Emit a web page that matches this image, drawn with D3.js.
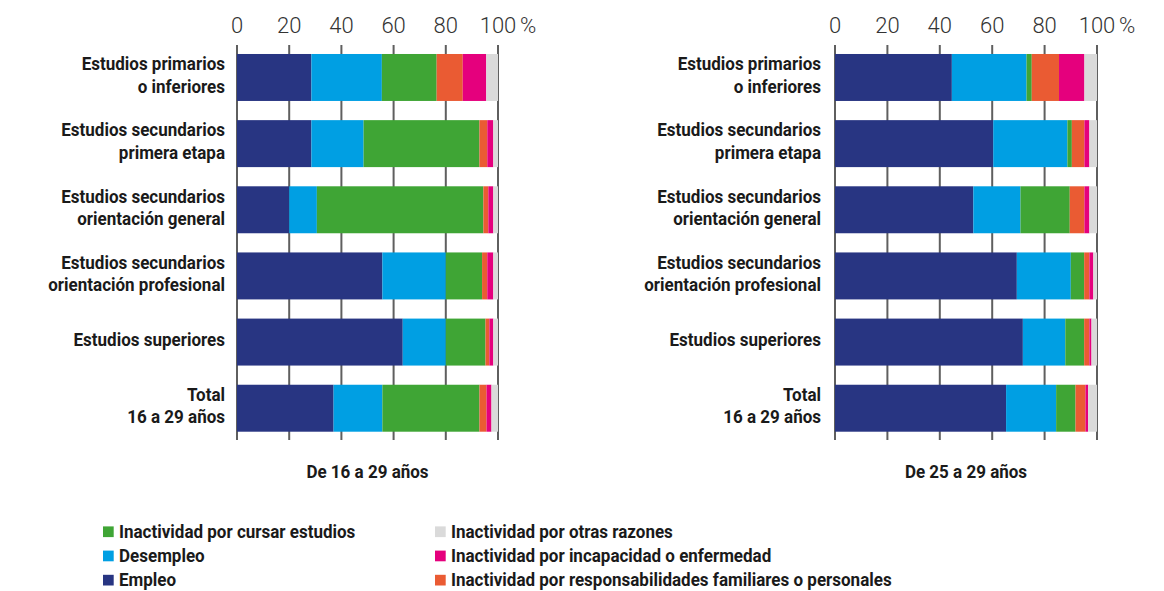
<!DOCTYPE html>
<html>
<head>
<meta charset="utf-8">
<script src="https://cdn.jsdelivr.net/npm/d3@7"></script>
<style>
  body { margin: 0; background: #fff; }
  .lbl { font-family: Roboto, "Liberation Sans Narrow", sans-serif; font-weight: bold; font-size: 18px; fill: #1a1a1a; }
  .tick-lbl { font-family: Roboto, "Open Sans", sans-serif; font-weight: 300; font-size: 22px; fill: #333; }
</style>
</head>
<body>
<svg id="chart" width="1164" height="591"></svg>
<script>
const categories = [
  ["Estudios primarios", "o inferiores"],
  ["Estudios secundarios", "primera etapa"],
  ["Estudios secundarios", "orientación general"],
  ["Estudios secundarios", "orientación profesional"],
  ["Estudios superiores"],
  ["Total", "16 a 29 años"]
];
const tickValues = [0, 20, 40, 60, 80, 100];

// De 16 a 29 años
const empleo16 = [28.5, 28.5, 20, 55.7, 63.5, 37];
const desempleo16 = [27, 20, 10.6, 24.3, 16.5, 18.7];
const estudios16 = [21, 44.4, 63.8, 13.9, 15.2, 37.2];
const familiares16 = [10, 3, 1.9, 2, 1.5, 2.7];
const incapacidad16 = [9, 2.3, 1.9, 2.3, 1.5, 1.9];
const otras16 = [4.5, 1.8, 1.8, 1.8, 1.8, 2.5];

// De 25 a 29 años
const empleo25 = [44.6, 60.4, 52.8, 69.4, 71.7, 65.3];
const desempleo25 = [28.5, 28.3, 18, 20.6, 16.2, 19.1];
const estudios25 = [2, 1.7, 18.8, 5.1, 7.2, 7.4];
const familiares25 = [10.4, 4.8, 5.6, 2, 2, 3.8];
const incapacidad25 = [9.7, 1.9, 1.9, 1.5, 0.8, 1];
const otras25 = [4.8, 2.9, 2.9, 1.4, 2.1, 3.4];

const seriesKeys = ["empleo", "desempleo", "estudios", "familiares", "incapacidad", "otras"];
const seriesNames = {
  empleo: "Empleo",
  desempleo: "Desempleo",
  estudios: "Inactividad por cursar estudios",
  familiares: "Inactividad por responsabilidades familiares o personales",
  incapacidad: "Inactividad por incapacidad o enfermedad",
  otras: "Inactividad por otras razones"
};
const colors = {
  empleo: "#283582",
  desempleo: "#009fe3",
  estudios: "#3fa535",
  familiares: "#ea5b33",
  incapacidad: "#e5007d",
  otras: "#dadada"
};
// legend columns, top to bottom
const legendCols = [
  ["estudios", "desempleo", "empleo"],
  ["otras", "incapacidad", "familiares"]
];

// no condensed font installed, so squeeze the bold labels horizontally
const condense = 0.945;

const svg = d3.select("#chart");

// text placed at (x, y) and squeezed around that point
const condensedText = (parent, x, y, anchor, txt) =>
  parent.append("text")
    .attr("class", "lbl")
    .attr("text-anchor", anchor)
    .attr("transform", `translate(${x},${y}) scale(${condense},1)`)
    .text(txt);

const buildRows = (s) => categories.map((c, i) => {
  const row = { cat: i };
  seriesKeys.forEach((k) => { row[k] = s[k][i]; });
  return row;
});

const y = d3.scaleBand()
  .domain(d3.range(categories.length))
  .range([44.4, 441.3])
  .paddingInner(0.29)
  .paddingOuter(0.145);

const drawPanel = (rows, x0, x1, labelX, title) => {
  const x = d3.scaleLinear().domain([0, 100]).range([x0, x1]);
  const g = svg.append("g");

  // vertical grid lines behind the bars
  g.selectAll("line.grid")
    .data(tickValues)
    .enter()
    .append("line")
    .attr("x1", (d) => x(d))
    .attr("x2", (d) => x(d))
    .attr("y1", 45)
    .attr("y2", 440)
    .attr("stroke", "#5f5f5f")
    .attr("stroke-width", 2);

  // tick labels on top
  g.selectAll("text.tick-lbl")
    .data(tickValues)
    .enter()
    .append("text")
    .attr("class", "tick-lbl")
    .attr("x", (d) => x(d))
    .attr("y", 32.5)
    .attr("text-anchor", "middle")
    .text((d) => d);
  g.append("text")
    .attr("class", "tick-lbl")
    .attr("x", x(100) + 22)
    .attr("y", 32.5)
    .text("%");

  const stacked = d3.stack().keys(seriesKeys)(rows);
  g.selectAll("g.layer")
    .data(stacked)
    .enter()
    .append("g")
    .attr("fill", (d) => colors[d.key])
    .selectAll("rect")
    .data((d) => d)
    .enter()
    .append("rect")
    .attr("x", (d) => x(d[0]))
    .attr("width", (d) => x(d[1]) - x(d[0]))
    .attr("y", (d) => y(d.data.cat))
    .attr("height", y.bandwidth());

  // category labels
  categories.forEach((lines, i) => {
    const cy = y(i) + y.bandwidth() / 2;
    lines.forEach((ln, j) => {
      condensedText(g, labelX, cy + 4 + (j - (lines.length - 1) / 2) * 22.5, "end", ln);
    });
  });

  condensedText(g, (x0 + x1) / 2, 478, "middle", title);
};

drawPanel(buildRows({
  empleo: empleo16, desempleo: desempleo16, estudios: estudios16,
  familiares: familiares16, incapacidad: incapacidad16, otras: otras16
}), 237, 498, 225, "De 16 a 29 años");

drawPanel(buildRows({
  empleo: empleo25, desempleo: desempleo25, estudios: estudios25,
  familiares: familiares25, incapacidad: incapacidad25, otras: otras25
}), 835, 1097, 821, "De 25 a 29 años");

// legend
const legendX = [103, 435];
legendCols.forEach((col, ci) => {
  col.forEach((k, ri) => {
    const ly = 531.7 + ri * 24.2;
    svg.append("rect")
      .attr("x", legendX[ci])
      .attr("y", ly - 5.3)
      .attr("width", 10.7)
      .attr("height", 10.7)
      .attr("fill", colors[k]);
    condensedText(svg, legendX[ci] + 16, ly + 6, "start", seriesNames[k]);
  });
});
</script>
</body>
</html>
